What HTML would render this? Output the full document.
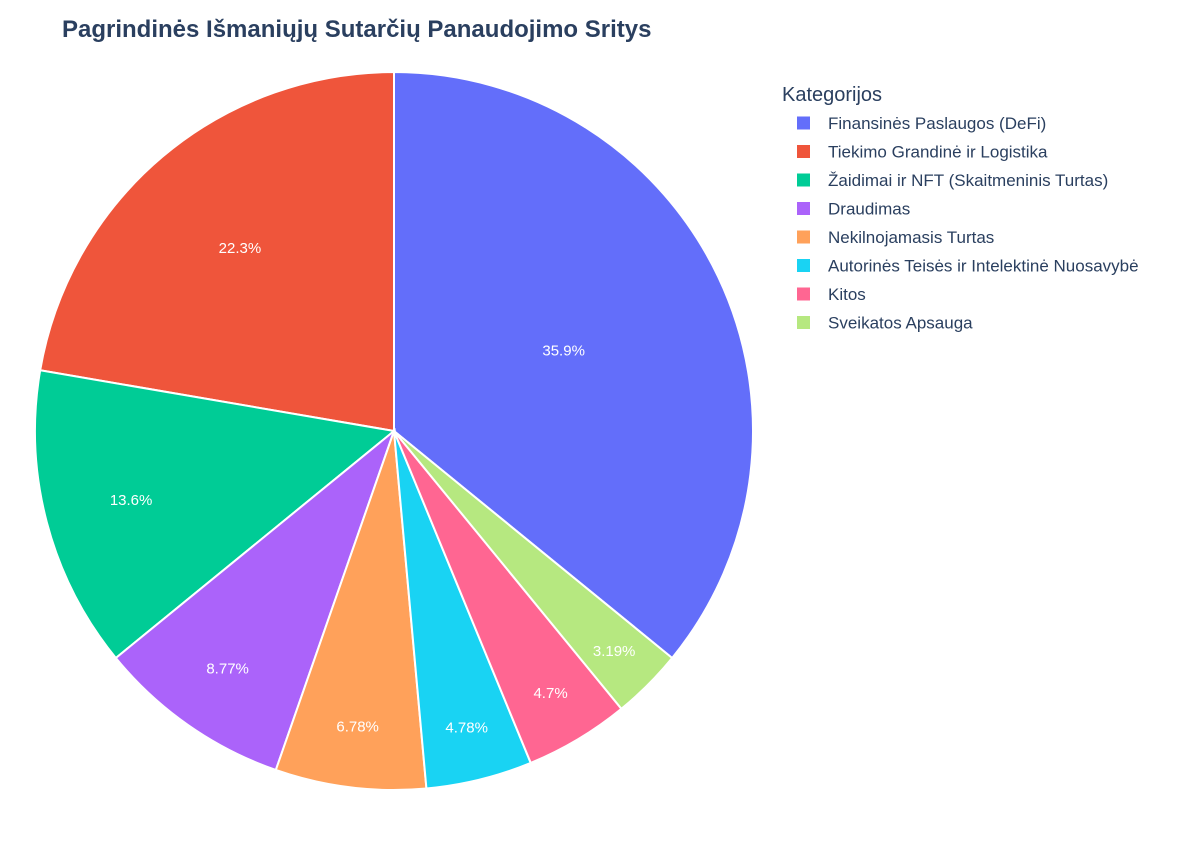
<!DOCTYPE html>
<html><head><meta charset="utf-8"><style>
body{margin:0;background:#fff;font-family:"Liberation Sans",Arial,sans-serif}
</style></head><body>
<svg id="c" width="1200" height="840" xmlns="http://www.w3.org/2000/svg">
<text x="62" y="37" font-size="24" font-weight="bold" fill="#2a3f5f">Pagrindinės Išmaniųjų Sutarčių Panaudojimo Sritys</text>
<text x="782" y="101" font-size="20" fill="#2a3f5f">Kategorijos</text>
<g id="slices"></g><g id="labels"></g><g id="legend"></g>
</svg>
<script>
const categories=["Finansinės Paslaugos (DeFi)","Tiekimo Grandinė ir Logistika","Žaidimai ir NFT (Skaitmeninis Turtas)","Draudimas","Nekilnojamasis Turtas","Autorinės Teisės ir Intelektinė Nuosavybė","Kitos","Sveikatos Apsauga"];
const values=[35.9,22.3,13.6,8.77,6.78,4.78,4.7,3.19];
const valueLabels=["35.9%","22.3%","13.6%","8.77%","6.78%","4.78%","4.7%","3.19%"];
const colors=["#636efa","#EF553B","#00cc96","#ab63fa","#FFA15A","#19d3f3","#FF6692","#B6E880"];
const NS="http://www.w3.org/2000/svg";
const cx=394,cy=431,R=359;
const total=values.reduce((a,b)=>a+b,0);
function pt(a,r){return [cx+r*Math.sin(a),cy-r*Math.cos(a)];} // a: clockwise from top
const sg=document.getElementById('slices'),lg=document.getElementById('labels'),leg=document.getElementById('legend');
// slice 0 clockwise from top; others counterclockwise from top
let ccw=0;
values.forEach((v,i)=>{
  const span=v/total*2*Math.PI;
  let a0,a1;
  if(i===0){a0=0;a1=span;}else{a1=-ccw;a0=a1-span;ccw+=span;}
  const p0=pt(a0,R),p1=pt(a1,R);
  const path=document.createElementNS(NS,'path');
  path.setAttribute('d',`M${cx},${cy}L${p0[0]},${p0[1]}A${R},${R} 0 ${span>Math.PI?1:0} 1 ${p1[0]},${p1[1]}Z`);
  path.setAttribute('fill',colors[i]);path.setAttribute('stroke','#fff');path.setAttribute('stroke-width','2');
  
  
  sg.appendChild(path);
  const pct=v/total*100;
  const rf=Math.min(0.9,0.9-0.0105*pct);
  const lp=pt((a0+a1)/2,R*rf);
  const t=document.createElementNS(NS,'text');
  t.setAttribute('x',lp[0]);t.setAttribute('y',lp[1]+5);t.setAttribute('text-anchor','middle');
  t.setAttribute('font-size','15');t.setAttribute('fill','#fff');t.textContent=valueLabels[i];
  
  
  lg.appendChild(t);
  const y=123+i*28.5;
  const g=document.createElementNS(NS,'g');
  
  
  const r=document.createElementNS(NS,'rect');
  r.setAttribute('x',797);r.setAttribute('y',y-6.5);r.setAttribute('width',13);r.setAttribute('height',13);r.setAttribute('fill',colors[i]);
  const tx=document.createElementNS(NS,'text');
  tx.setAttribute('x',828);tx.setAttribute('y',y+6);tx.setAttribute('font-size','17');tx.setAttribute('fill','#2a3f5f');tx.textContent=categories[i];
  g.appendChild(r);g.appendChild(tx);leg.appendChild(g);
});
</script>
</body></html>
